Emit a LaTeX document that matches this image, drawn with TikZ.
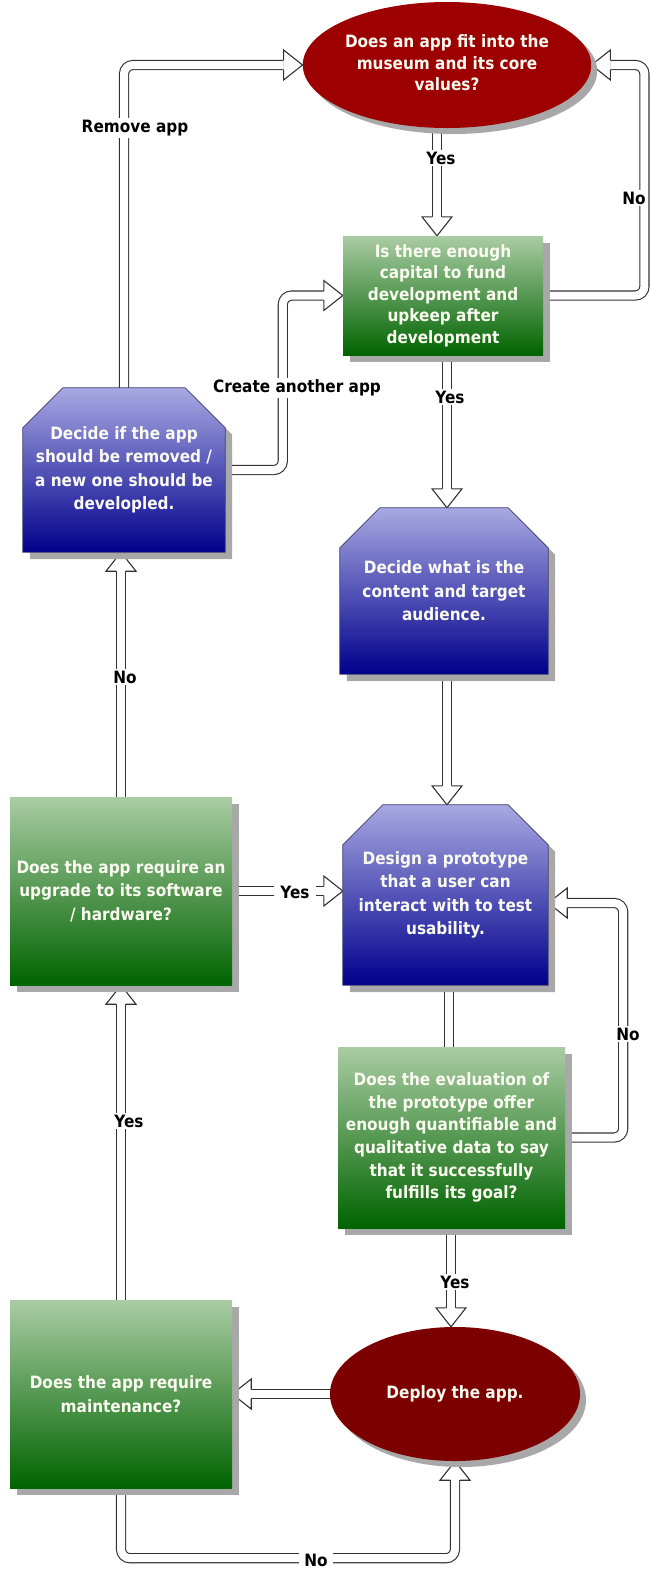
\documentclass[tikz,border=0pt]{standalone}
\usepackage{fontspec}
\newfontfamily\df{DejaVu Sans}[FakeStretch=0.9]
\usetikzlibrary{calc,shapes.geometric,shadows}
\pgfdeclarelayer{background}
\pgfdeclarelayer{shapes}
\pgfsetlayers{background,shapes,main}
\definecolor{gtop}{RGB}{170,204,164}
\definecolor{gbot}{RGB}{0,100,0}
\definecolor{btop}{RGB}{168,168,226}
\definecolor{bbot}{RGB}{0,0,140}
\definecolor{bdr}{RGB}{60,60,110}
\definecolor{redA}{RGB}{156,0,0}
\definecolor{redB}{RGB}{125,0,0}
\definecolor{shd}{RGB}{168,168,168}
\definecolor{lnc}{RGB}{50,50,50}
\definecolor{txc}{RGB}{250,250,240}
\newcommand\chamf[1]{%
 \fill[shd] ($(#1.north west)+(7,47)$) -- ($(#1.north west)+(47,7)$) -- ($(#1.north east)+(-33,7)$) -- ($(#1.north east)+(7,47)$) -- ($(#1.south east)+(7,7)$) -- ($(#1.south west)+(7,7)$) -- cycle;
 \shadedraw[top color=btop, bottom color=bbot, draw=bdr, line width=0.8pt] ($(#1.north west)+(0,40)$) -- ($(#1.north west)+(40,0)$) -- ($(#1.north east)+(-40,0)$) -- ($(#1.north east)+(0,40)$) -- (#1.south east) -- (#1.south west) -- cycle;}
\tikzset{
 txt/.style={font=\df\bfseries\fontsize{17}{23.5}\selectfont, align=center, text=txc},
 tight/.style={font=\df\bfseries\fontsize{17}{21.5}\selectfont},
 greenbox/.style={txt, rectangle, inner sep=0pt, top color=gtop, bottom color=gbot, drop shadow={shadow xshift=7pt, shadow yshift=-7pt, fill=shd, opacity=1}},
 bluebox/.style={txt, rectangle, inner sep=0pt},
 redell/.style={txt, ellipse, inner sep=0pt, drop shadow={shadow xshift=6pt, shadow yshift=-6pt, fill=shd, opacity=1}},
 conn/.style={draw=lnc, line width=1.1pt, double=white, double distance=8pt, rounded corners=9pt},
 lbl/.style={font=\df\bfseries\fontsize{17}{20}\selectfont, text=black, fill=white, inner sep=2pt},
 ahead/.pic={
   \fill[white] (0,0) -- (-19,-15) -- (-19,15) -- cycle;
   \draw[lnc, line width=1.1pt, line join=miter] (-19,4.55) -- (-19,15) -- (0,0) -- (-19,-15) -- (-19,-4.55);
 }
}
\begin{document}
\begin{tikzpicture}[x=1pt,y=-1pt]
\useasboundingbox (0,0) rectangle (649,1572);
% nodes
\node[redell, tight, fill=redA, minimum width=258pt, minimum height=126pt] (top) at (447,65) {\raisebox{-3pt}{\begin{tabular}{@{}c@{}}Does an app fit into the\\museum and its core\\values?\end{tabular}}};
\node[greenbox, tight, minimum width=200pt, minimum height=119pt] (cap) at (443,295.5) {Is there enough\\capital to fund\\development and\\upkeep after\\development};
\node[bluebox, minimum width=202pt, minimum height=164pt] (dec) at (124,470) {Decide if the app\\should be removed /\\a new one should be\\developled.};
\node[bluebox, minimum width=208pt, minimum height=166pt] (cont) at (444,591) {Decide what is the\\content and target\\audience.};
\node[bluebox, minimum width=205pt, minimum height=180pt] (proto) at (445.5,895) {Design a prototype\\that a user can\\interact with to test\\usability.};
\node[greenbox, minimum width=222pt, minimum height=188pt] (upg) at (121,891) {Does the app require an\\upgrade to its software\\/ hardware?};
\node[greenbox, font=\df\bfseries\fontsize{17}{22.6}\selectfont, minimum width=227pt, minimum height=181pt] (eval) at (451.5,1137.5) {Does the evaluation of\\the prototype offer\\enough quantifiable and\\qualitative data to say\\that it successfully\\fulfills its goal?};
\node[greenbox, minimum width=222pt, minimum height=188pt] (maint) at (121,1394) {Does the app require\\maintenance?};
\node[redell, fill=redB, minimum width=250pt, minimum height=134pt] (dep) at (455,1394) {Deploy the app.};
\begin{pgfonlayer}{shapes}
\chamf{dec}
\chamf{cont}
\chamf{proto}
\end{pgfonlayer}
\begin{pgfonlayer}{background}
\fill[white] (0,0) rectangle (649,1572);
% C1
\draw[conn] ($(top.south)+(-10,-8)$) -- ($(cap.north)+(-6,-19)$);
\pic[rotate=-90] at ($(cap.north)+(-6,0)$) {ahead};
\node[lbl] (l1) at (441,158) {Yes};
% C2
\draw[conn] (cap.east) -| ($(top.east)+(53,0)$) -- ($(top.east)+(19,0)$);
\pic[rotate=180] at (top.east) {ahead};
\node[lbl] (l2) at (634,198) {No};
% C3
\draw[conn] ($(cap.south)+(4,-5)$) -- ($(cont.north)+(3,-19)$);
\pic[rotate=-90] at ($(cont.north)+(3,0)$) {ahead};
\node[lbl] (l3) at (450,397) {Yes};
% C4
\draw[conn] ($(cont.south)+(3,-5)$) -- ($(proto.north)+(1.5,-19)$);
\pic[rotate=-90] at ($(proto.north)+(1.5,0)$) {ahead};
% C5
\draw[conn] ($(proto.south)+(3.5,-5)$) -- ($(eval.north)+(-2.5,5)$);
% C6
\draw[conn] (eval.east) -| ($(proto.east)+(75,8)$) -- ($(proto.east)+(19,8)$);
\pic[rotate=180] at ($(proto.east)+(0,8)$) {ahead};
\node[lbl] (l6) at (628,1034) {No};
% C7
\draw[conn] ($(eval.south)+(-0.5,-5)$) -- ($(dep.north)+(-4,-19)$);
\pic[rotate=-90] at ($(dep.north)+(-4,0)$) {ahead};
\node[lbl] (l7) at (455,1282) {Yes};
% C8
\draw[conn] ($(dep.west)+(5,0)$) -- ($(maint.east)+(19,0)$);
\pic[rotate=180] at (maint.east) {ahead};
% C9
\draw[conn] (maint.south) |- ($(dep.south)+(0,97)$) -- ($(dep.south)+(0,19)$);
\pic[rotate=90] at (dep.south) {ahead};
\node[lbl, inner xsep=5pt] (l9) at (316,1560) {No};
% C10
\draw[conn] (maint.north) -- ($(upg.south)+(0,19)$);
\pic[rotate=90] at (upg.south) {ahead};
\node[lbl] (l10) at (129,1121) {Yes};
% C11
\draw[conn] (upg.east) -- ($(proto.west |- upg.east)+(-19,0)$);
\pic at (proto.west |- upg.east) {ahead};
\node[lbl, inner xsep=6pt] (l11) at (295,892) {Yes};
% C12
\draw[conn] (upg.north) -- ($(dec.south -| upg.north)+(0,19)$);
\pic[rotate=90] at (dec.south -| upg.north) {ahead};
\node[lbl] (l12) at (125,677) {No};
% C13
\draw[conn] (dec.north) |- ($(top.west)+(-19,0)$);
\pic at (top.west) {ahead};
\node[lbl] (l13) at (135,128) {Remove app};
% C14
\draw[conn] (dec.east) -| ($(cap.west)+(-60,0)$) -- ($(cap.west)+(-19,0)$);
\pic at (cap.west) {ahead};
\node[lbl] (l14) at (297,388) {Create another app};
\end{pgfonlayer}
\end{tikzpicture}
\end{document}
